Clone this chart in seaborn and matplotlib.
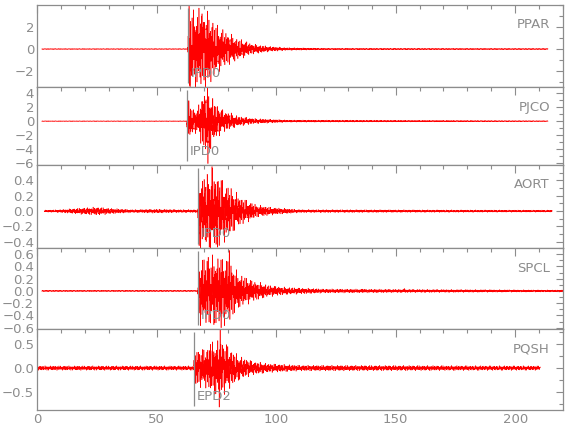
import numpy as np
import pandas as pd
import matplotlib
matplotlib.use("Agg")
import matplotlib.pyplot as plt
from matplotlib.ticker import MultipleLocator, FixedLocator
import seaborn as sns

# station names, top to bottom
stations = ["PPAR", "PJCO", "AORT", "SPCL", "PQSH"]

# pick (phase) labels and times (s)
pick_names = ["IPD0", "IPD0", "IPD0", "IPD0", "EPD2"]
pick_times = [63.3, 62.8, 67.4, 67.4, 65.7]

# record start / end (s)
rec_start = [2.0, 2.0, 3.0, 2.0, 0.0]
rec_end = [213.8, 213.8, 215.5, 220.0, 210.5]

# peak amplitude envelopes (time s, amplitude)
env_ppar_t = [2, 63.0, 63.5, 64.5, 68, 72, 76, 83, 90, 97, 104, 120, 213.8]
env_ppar_a = [0.03, 0.03, 3.2, 2.6, 2.8, 2.4, 1.5, 0.8, 0.35, 0.18, 0.1, 0.05, 0.04]
env_pjco_t = [2, 62.6, 63.0, 64.5, 67, 69.5, 71.5, 74, 77, 84, 91, 105, 213.8]
env_pjco_a = [0.04, 0.04, 2.6, 1.5, 1.2, 3.2, 3.6, 2.2, 1.3, 0.55, 0.28, 0.12, 0.05]
env_aort_t = [3, 10, 18, 25, 32, 40, 50, 60, 67.2, 67.6, 70, 73, 76, 78, 85, 92, 99, 110, 215.5]
env_aort_a = [0.01, 0.015, 0.03, 0.04, 0.025, 0.015, 0.02, 0.015, 0.015, 0.38, 0.35, 0.4,
              0.35, 0.3, 0.14, 0.06, 0.035, 0.015, 0.01]
env_spcl_t = [2, 67.2, 67.6, 72, 77, 80.5, 84, 90, 97, 104, 120, 220]
env_spcl_a = [0.008, 0.008, 0.4, 0.42, 0.42, 0.38, 0.22, 0.13, 0.07, 0.045, 0.025, 0.012]
env_pqsh_t = [0, 65.5, 65.9, 70, 74, 77, 80, 84, 90, 97, 110, 210.5]
env_pqsh_a = [0.035, 0.035, 0.3, 0.3, 0.42, 0.45, 0.35, 0.2, 0.11, 0.07, 0.045, 0.035]

# largest single excursions (time s, value)
spikes_ppar = [(63.6, 3.9), (63.9, -3.3), (68.8, 3.0), (71.5, -2.6)]
spikes_pjco = [(63.2, 2.9), (71.3, 5.0), (71.5, -6.1)]
spikes_aort = [(73.2, 0.58), (67.8, -0.45), (75.5, -0.47)]
spikes_spcl = [(71.6, 0.55), (80.4, 0.66), (77.0, -0.6), (74.0, -0.55), (136, 0.03), (153.6, 0.04)]
spikes_pqsh = [(76.6, 0.8), (76.2, -0.82), (72.5, 0.5)]

envelopes = [(env_ppar_t, env_ppar_a), (env_pjco_t, env_pjco_a), (env_aort_t, env_aort_a),
             (env_spcl_t, env_spcl_a), (env_pqsh_t, env_pqsh_a)]
spikes = [spikes_ppar, spikes_pjco, spikes_aort, spikes_spcl, spikes_pqsh]

# axis settings per panel
ylims = [(-3.45, 4.0), (-6.3, 4.9), (-0.48, 0.6), (-0.62, 0.7), (-0.88, 0.82)]
yticks = [[-2, 0, 2], [-6, -4, -2, 0, 2, 4], [-0.4, -0.2, 0.0, 0.2, 0.4],
          [-0.6, -0.4, -0.2, 0.0, 0.2, 0.4, 0.6], [-0.5, 0.0, 0.5]]
yminor = [1, 1, 0.1, 0.1, 0.25]
yfmt = ["{:.0f}", "{:.0f}", "{:.1f}", "{:.1f}", "{:.1f}"]
heights = [82, 78, 83, 81, 81]

grey = "#8c8c8c"
sns.set_style("white")
plt.rcParams["font.family"] = ["Liberation Sans Narrow", "DejaVu Sans"]

fig = plt.figure(figsize=(5.8, 4.4), dpi=100)
gs = fig.add_gridspec(5, 1, height_ratios=heights, hspace=0,
                      left=37 / 580, right=563 / 580, top=1 - 5 / 440, bottom=1 - 410 / 440)

dt = 0.02
for i, name in enumerate(stations):
    ax = fig.add_subplot(gs[i])
    t = np.arange(rec_start[i], rec_end[i], dt)
    env = np.interp(t, *envelopes[i])
    ph = 0.9 * i
    carrier = (np.sin(2 * np.pi * 1.7 * t + ph) + 0.8 * np.sin(2 * np.pi * 3.1 * t + 1.1 + ph)
               + 0.6 * np.sin(2 * np.pi * 5.3 * t + 2.0 + 2 * ph)
               + 0.5 * np.sin(2 * np.pi * 7.9 * t + 0.7 + 3 * ph)) / 1.9
    y = env * carrier
    for ts, val in spikes[i]:
        y[np.argmin(np.abs(t - ts))] = val
    df = pd.DataFrame({"time": t, "amp": y})
    sns.lineplot(data=df, x="time", y="amp", ax=ax, color="red", lw=0.4,
                 estimator=None, sort=False)

    lo, hi = ylims[i]
    ax.vlines(pick_times[i], lo + 0.05 * (hi - lo), hi - 0.04 * (hi - lo), color=grey, lw=0.9)
    ax.text(pick_times[i] + 1.2, lo + 0.17 * (hi - lo), pick_names[i], color=grey,
            fontsize=9.5, ha="left", va="center", zorder=5)
    ax.annotate(name, xy=(1, 1), xycoords="axes fraction", xytext=(-13, -20),
                textcoords="offset pixels", ha="right", va="center", color=grey, fontsize=9.5)

    ax.set_xlim(0, 220)
    ax.set_ylim(lo, hi)
    ax.yaxis.set_major_locator(FixedLocator(yticks[i]))
    ax.set_yticklabels([yfmt[i].format(v).replace("-", "\u2212") for v in yticks[i]])
    ax.yaxis.set_minor_locator(MultipleLocator(yminor[i]))
    ax.xaxis.set_major_locator(MultipleLocator(50))
    ax.xaxis.set_minor_locator(MultipleLocator(10))
    ax.tick_params(which="both", direction="in", top=True, right=True, colors=grey,
                   labelsize=9.5, pad=2)
    ax.tick_params(which="major", length=6, width=0.8)
    ax.tick_params(which="minor", length=3, width=0.8)
    ax.tick_params(axis="y", which="major", length=5)
    for s in ax.spines.values():
        s.set_color(grey)
        s.set_linewidth(0.9)
    ax.set_xlabel("")
    ax.set_ylabel("")
    if i < 4:
        ax.tick_params(labelbottom=False)

plt.savefig("out.png", dpi=100)
